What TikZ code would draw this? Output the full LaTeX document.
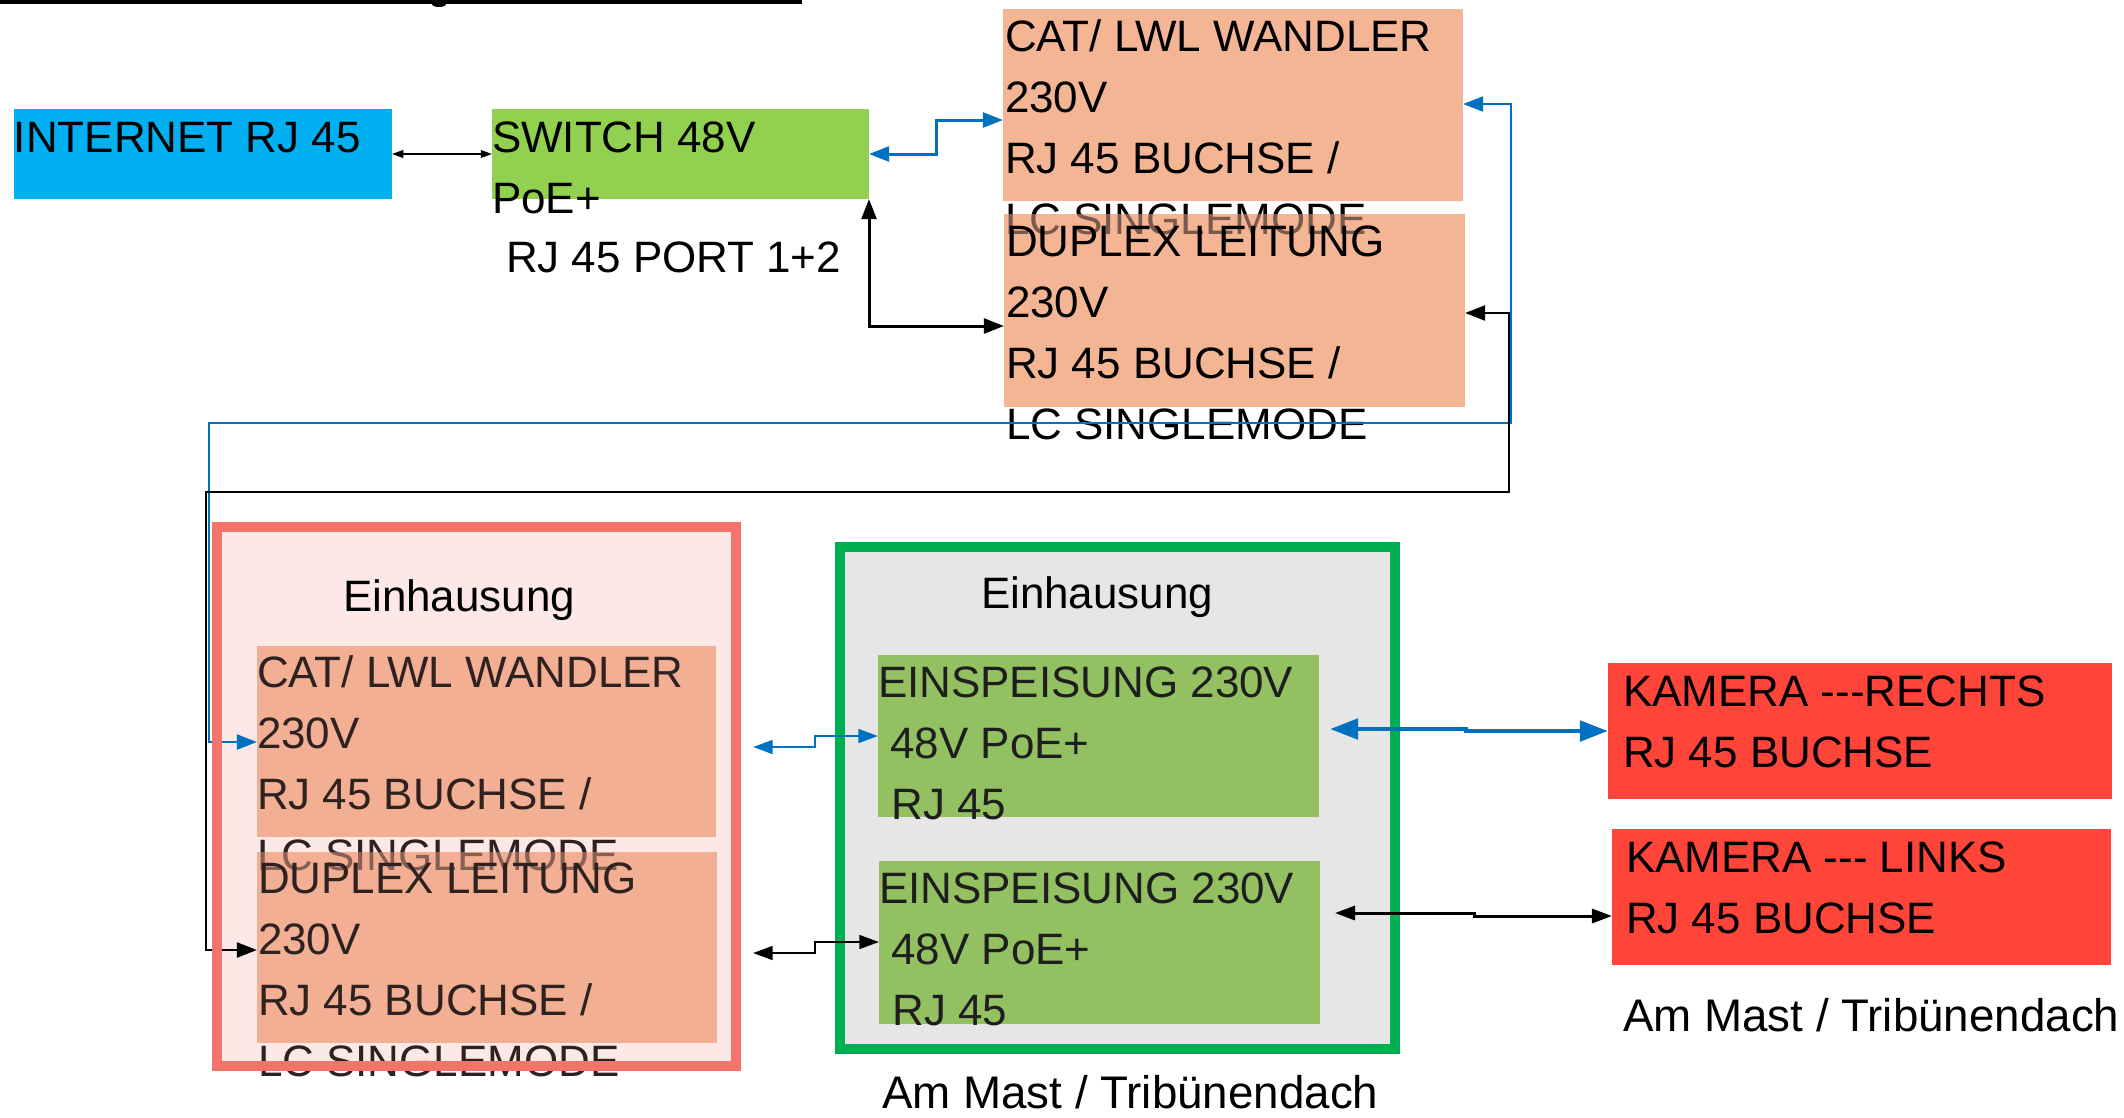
\documentclass[tikz,border=0pt]{standalone}
\usepackage{fontspec}
\setmainfont{Liberation Sans}
\usetikzlibrary{arrows.meta,fit}
\definecolor{cyanbox}{HTML}{00B0F0}
\definecolor{swgreen}{HTML}{92D050}
\definecolor{salmon}{HTML}{F4B595}
\definecolor{salmonL}{HTML}{F3AF93}
\definecolor{pinkfill}{HTML}{FCE8E6}
\definecolor{redborder}{HTML}{F4736B}
\definecolor{grayfill}{HTML}{E6E6E6}
\definecolor{greenborder}{HTML}{00B050}
\definecolor{ingreen}{HTML}{93C162}
\definecolor{camred}{HTML}{FF4539}
\definecolor{lineblue}{HTML}{0070C0}
\definecolor{brownT}{HTML}{2E2220}
\definecolor{darkT}{HTML}{1E1E1E}
\newcommand{\fs}{\rule{0pt}{11pt}}
\begin{document}
\begin{tikzpicture}[x=0.01cm,y=-0.01cm,
  box/.style={inner sep=0pt, outer sep=0pt, draw=none},
  txt/.style={anchor=north west, inner sep=0pt, outer sep=0pt, align=left,
    font=\fontsize{12.5}{17.3}\selectfont},
  thinarr/.style={line width=0.45pt, >={Triangle[length=3.2pt,width=2.2pt]}, <->},
  bluearr/.style={draw=lineblue, line width=0.85pt, >={Triangle[length=5.7pt,width=4.2pt]}, <->},
  blackarr/.style={draw=black, line width=0.85pt, >={Triangle[length=5.7pt,width=4.2pt]}, <->},
  bluemid/.style={draw=lineblue, line width=0.7pt, >={Triangle[length=5.6pt,width=3.9pt]}, <->},
  blackmid/.style={draw=black, line width=0.7pt, >={Triangle[length=5.6pt,width=3.9pt]}, <->},
  bluethick/.style={draw=lineblue, line width=1.4pt, >={Triangle[length=8pt,width=5.7pt]}, <->},
  blackright/.style={draw=black, line width=0.85pt, >={Triangle[length=5.7pt,width=4pt]}, <->},
  ]
\useasboundingbox (0,0) rectangle (2124,1117);

% cut-off line at the top
\fill[black] (0,0) rectangle (802,4);
\fill[black] (439,4) ellipse [x radius=0.07cm, y radius=0.03cm];

% top row
\node[box, fill=cyanbox, fit={(14,109) (392,199)}] (inet) {};
\node[txt] (tinet) at (14,114.2) {\fs INTERNET RJ 45};
\node[box, fill=swgreen, fit={(492,109) (869,199)}] (sw) {};
\node[txt] (tsw) at (492,114.2) {\fs SWITCH 48V\\PoE+};
\node[txt] (tport) at (506,234.2) {\fs RJ 45 PORT 1+2};

\node[box, fill=salmon, fit={(1003,9) (1463,201)}] (cat1) {};
\node[box, fill=salmon, fit={(1004,214) (1465,407)}] (cat2) {};
\node[txt] (tcat1) at (1005,13.2) {\fs CAT/ LWL WANDLER\\230V\\RJ 45 BUCHSE /\\LC SINGLEMODE};
\fill[salmon, fill opacity=0.5] (cat2.north west) rectangle (cat2.south east);
\node[txt] (tcat2) at (1006,218.2) {\fs DUPLEX LEITUNG\\230V\\RJ 45 BUCHSE /\\LC SINGLEMODE};

% left enclosure
\node[box, fill=pinkfill, fit={(217,527) (736,1066)}] (encL) {};
\node[txt] (teinL) at (343,573.2) {\fs Einhausung};
\node[box, fill=salmonL, fit={(257,646) (716,837)}] (icat) {};
\node[box, fill=salmonL, fit={(257,852) (717,1043)}] (idup) {};
\node[txt, text=brownT] (ticat) at (257,649.2) {\fs CAT/ LWL WANDLER\\230V\\RJ 45 BUCHSE /\\LC SINGLEMODE};
\fill[salmonL, fill opacity=0.45] (idup.north west) rectangle (idup.south east);
\node[txt, text=brownT] (tidup) at (258,855.2) {\fs DUPLEX LEITUNG\\230V\\RJ 45 BUCHSE /\\LC SINGLEMODE};

% right enclosure
\node[box, fill=grayfill, fit={(840,547) (1395,1049)}] (encR) {};
\draw[draw=greenborder, line width=2.7pt] (encR.north west) rectangle (encR.south east);
\node[txt] (teinR) at (981,570.2) {\fs Einhausung};
\node[box, fill=ingreen, fit={(878,655) (1319,817)}] (ein1) {};
\node[box, fill=ingreen, fit={(879,861) (1320,1024)}] (ein2) {};
\node[txt, text=darkT] (tein1) at (878,658.7) {\fs EINSPEISUNG 230V\\\kern3.5pt 48V PoE+\\\kern3.8pt RJ 45};
\node[txt, text=darkT] (tein2) at (879,865.2) {\fs EINSPEISUNG 230V\\\kern3.5pt 48V PoE+\\\kern3.8pt RJ 45};

% cameras
\node[box, fill=camred, fit={(1608,663) (2112,799)}] (kr) {};
\node[txt] (tkr) at (1623,668.2) {\fs KAMERA -{}-{}-RECHTS\\RJ 45 BUCHSE};
\node[box, fill=camred, fit={(1612,829) (2111,965)}] (kl) {};
\node[txt] (tkl) at (1626,834.2) {\fs KAMERA -{}-{}- LINKS\\RJ 45 BUCHSE};

% labels
\node[txt, font=\fontsize{13}{17.3}\selectfont] (mast1) at (1623,992.5) {\fs Am Mast / Tribünendach};
\node[txt, font=\fontsize{13}{17.3}\selectfont] (mast2) at (882,1069.5) {\fs Am Mast / Tribünendach};

% connectors
\draw[thinarr] (inet.east) -- (sw.west);
\draw[bluearr] (sw.east) -- ++(67,0) |- (cat1.west |- 0,120);
\draw[blackarr] (sw.south east) |- (cat2.west |- 0,326);
\draw[bluearr, line width=0.77pt] (cat1.east |- 0,104) -| (1511,423) -| (209,742) -- (icat.west |- 0,742);
\draw[blackarr, line width=0.8pt] (cat2.east |- 0,313) -| (1509,492) -| (206,950) -- (idup.west |- 0,950);

\coordinate (bl1) at (753,747);
\draw[bluemid] (bl1) -| (815,736) -- (ein1.west);
\coordinate (kl1) at (753,953);
\draw[blackmid] (kl1) -| (815,942) -- (ein2.west |- 0,942);
\coordinate (br1) at (1330,729);
\draw[bluethick] (br1) -- (1466,729) |- (kr.west);
\coordinate (kr1) at (1335,913);
\draw[blackright] (kr1) -- (1474,913) |- (kl.west |- 0,916);

% left enclosure border on top
\draw[draw=redborder, line width=2.7pt] (encL.north west) rectangle (encL.south east);
\end{tikzpicture}
\end{document}
